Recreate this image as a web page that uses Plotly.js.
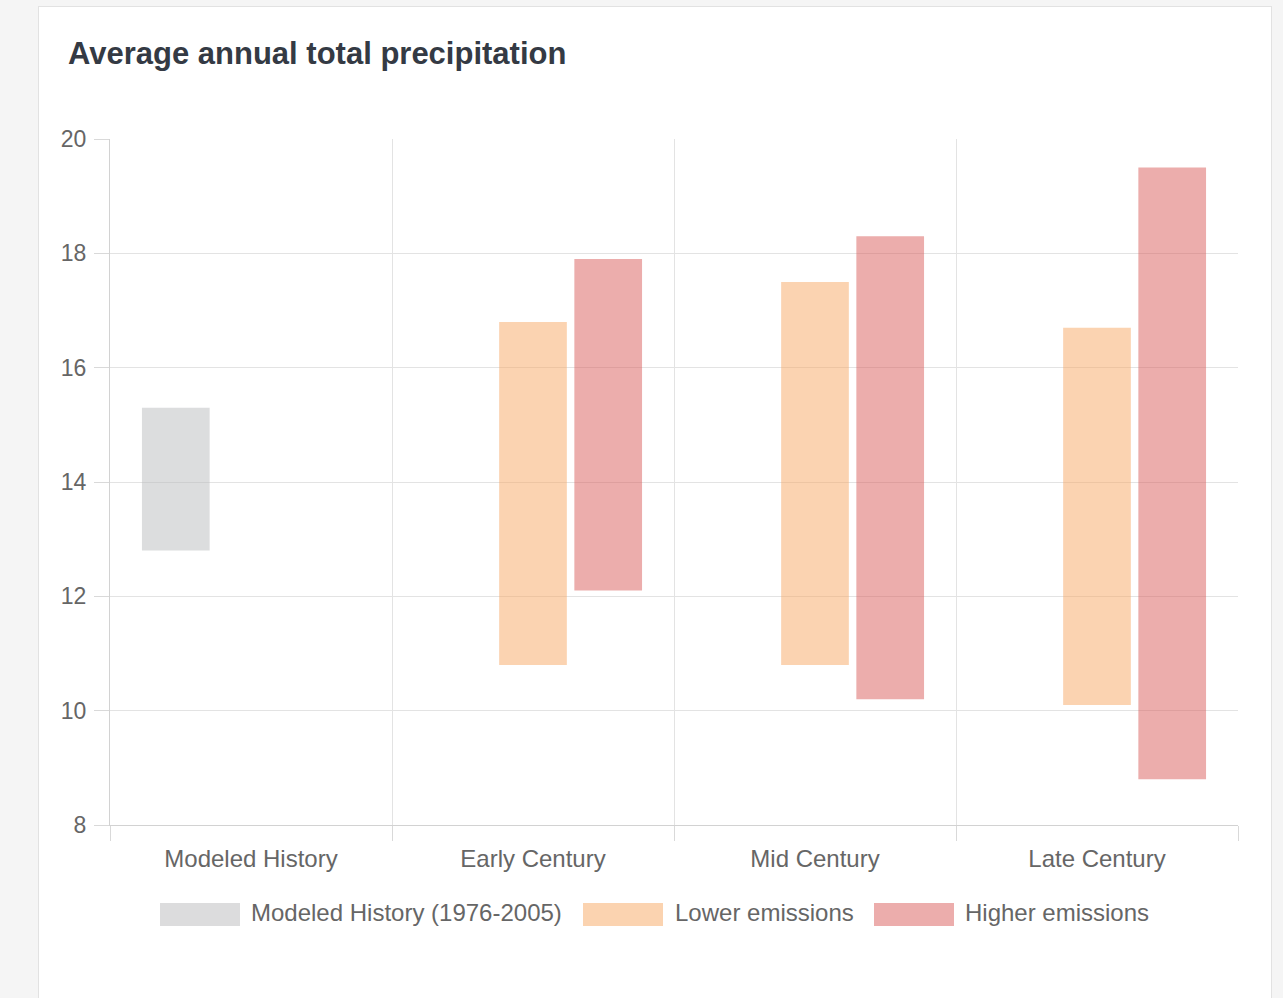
<!DOCTYPE html>
<html>
<head>
<meta charset="utf-8">
<script src="https://cdn.plot.ly/plotly-3.0.1.min.js"></script>
<style>
  html, body { margin: 0; padding: 0; background: #f5f5f5; width: 1283px; height: 998px; overflow: hidden; }
  #card { position: absolute; left: 38px; top: 6px; width: 1232px; height: 1000px; background: #ffffff; border: 1px solid #e2e2e2; }
  #chart { position: absolute; left: 0; top: 0; width: 1283px; height: 998px; }
</style>
</head>
<body>
<div id="card"></div>
<div id="chart"></div>
<script>
const categories = ["Modeled History", "Early Century", "Mid Century", "Late Century"];
const seriesNames = ["Modeled History (1976-2005)", "Lower emissions", "Higher emissions"];
const historyLow  = [12.8, null, null, null];
const historyHigh = [15.3, null, null, null];
const lowerLow    = [null, 10.8, 10.8, 10.1];
const lowerHigh   = [null, 16.8, 17.5, 16.7];
const higherLow   = [null, 12.1, 10.2, 8.8];
const higherHigh  = [null, 17.9, 18.3, 19.5];
const yTicks = [8, 10, 12, 14, 16, 18, 20];

const colors = ["rgba(186,187,190,0.5)", "rgba(247,167,99,0.5)", "rgba(218,92,90,0.5)"];
const legendColors = ["#dcdcdd", "#fbd3b0", "#ecadac"];

function span(lo, hi) { return lo.map((v, i) => (v === null || hi[i] === null) ? null : hi[i] - v); }

const lows = [historyLow, lowerLow, higherLow];
const highs = [historyHigh, lowerHigh, higherHigh];
const traces = seriesNames.map((name, k) => ({
  type: "bar",
  name: name,
  x: categories,
  y: span(lows[k], highs[k]),
  base: lows[k],
  marker: { color: colors[k], line: { width: 0 } },
  hoverinfo: "skip",
  showlegend: false
}));

// plot area geometry in pixels (for paper coordinates of custom legend)
const L = 110, R = 45, T = 139, B = 173, W = 1283, H = 998;
const pw = W - L - R, ph = H - T - B;
const px = x => (x - L) / pw;
const py = y => (H - B - y) / ph;

const legendItems = [
  { x0: 160, x1: 240, tx: 249 },
  { x0: 583, x1: 663, tx: 673 },
  { x0: 874, x1: 954, tx: 963 }
];
const shapes = legendItems.map((it, k) => ({
  type: "rect", xref: "paper", yref: "paper",
  x0: px(it.x0), x1: px(it.x1), y0: py(926), y1: py(903),
  fillcolor: legendColors[k], line: { width: 0 }
}));
const annotations = legendItems.map((it, k) => ({
  xref: "paper", yref: "paper", x: px(it.tx), y: py(913),
  xanchor: "left", yanchor: "middle", showarrow: false,
  text: seriesNames[k], font: { family: "Liberation Sans, Arial, sans-serif", size: 24, color: "#666666" }
}));

const layout = {
  width: W, height: H,
  margin: { l: L, r: R, t: T, b: B },
  paper_bgcolor: "rgba(0,0,0,0)",
  plot_bgcolor: "rgba(0,0,0,0)",
  font: { family: "Liberation Sans, Arial, sans-serif", size: 24, color: "#666666" },
  title: {
    text: "Average annual total precipitation",
    x: 68 / W, xref: "container", xanchor: "left",
    y: 1 - 53 / H, yref: "container", yanchor: "middle",
    font: { family: "Liberation Sans, Arial, sans-serif", size: 31, color: "#343a44", weight: 700 }
  },
  barmode: "group",
  bargap: 0.2,
  bargroupgap: 0.1,
  xaxis: {
    type: "category",
    tickson: "boundaries",
    ticks: "outside", ticklen: 15, tickcolor: "#d9d9d9", tickwidth: 1,
    ticklabelstandoff: 12,
    showgrid: true, gridcolor: "#e3e3e3", gridwidth: 1,
    showline: true, linecolor: "#d2d2d2", linewidth: 1,
    tickfont: { size: 24, color: "#666666" },
    zeroline: false, fixedrange: true
  },
  yaxis: {
    range: [8, 20],
    tickvals: yTicks,
    ticks: "outside", ticklen: 15, tickcolor: "#d9d9d9", tickwidth: 1,
    ticklabelstandoff: 3,
    showgrid: true, gridcolor: "#e3e3e3", gridwidth: 1,
    showline: true, linecolor: "#d2d2d2", linewidth: 1,
    tickfont: { size: 23, color: "#666666" },
    zeroline: false, fixedrange: true
  },
  shapes: shapes,
  annotations: annotations,
  showlegend: false
};

Plotly.newPlot("chart", traces, layout, { displayModeBar: false, staticPlot: true });
</script>
</body>
</html>
